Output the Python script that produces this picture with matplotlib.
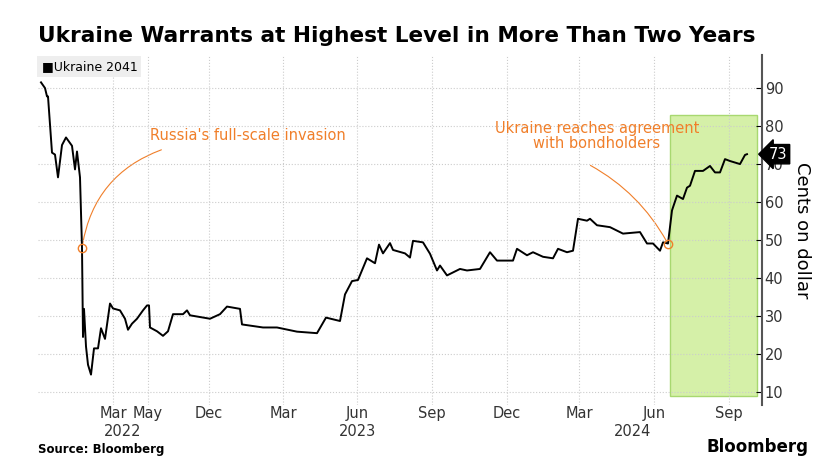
import matplotlib.pyplot as plt
import matplotlib.transforms as mtransforms
from matplotlib.patches import FancyArrowPatch

plt.rcParams['font.family'] = ['DejaVu Sans']

# position along the (non-calendar) Bloomberg time axis, and price in cents
pos = [41, 45, 47, 48, 52, 55, 58, 62, 66, 72, 75, 77, 80, 82, 83, 84, 86, 88, 91, 94, 98,
       101, 105, 110, 113, 120, 125, 128, 132, 137, 143, 147, 149, 150, 157, 163, 168, 173,
       183, 187, 190, 210, 220, 227, 240, 242, 263, 277, 297, 317, 326, 340, 345, 352, 358,
       367, 375, 379, 383, 390, 393, 405, 410, 413, 423, 430, 437, 440, 447, 460, 467, 480,
       490, 497, 513, 517, 527, 533, 543, 553, 558, 567, 573, 578, 587, 590, 597, 610, 623,
       640, 647, 653, 660, 663, 668, 672, 673, 677, 683, 687, 690, 695, 703, 710, 715, 720,
       725, 730, 740, 745, 747]
price = [91.5, 90, 87.8, 87.8, 73, 72.5, 66.5, 75, 77, 74.8, 68.6, 73.3, 66.5, 48, 24.5, 31.9,
         22, 17.2, 14.6, 21.5, 21.5, 26.8, 24, 33.3, 32, 31.5, 29.3, 26.4, 28, 29.3, 31.5, 32.8,
         32.8, 27, 26, 24.8, 26, 30.5, 30.5, 31.5, 30.2, 29.3, 30.5, 32.5, 31.9, 27.8, 27, 27,
         25.9, 25.5, 29.6, 28.7, 35.7, 39.2, 39.5, 45.2, 43.9, 48.8, 46.5, 49.2, 47.4, 46.5,
         45.4, 49.8, 49.4, 46.4, 42, 43.3, 40.7, 42.4, 42, 42.4, 46.8, 44.6, 44.6, 47.7, 46,
         46.8, 45.6, 45.2, 47.7, 46.8, 47.2, 55.6, 55.1, 55.6, 53.9, 53.4, 51.7, 52.1, 49.1,
         49.1, 47.2, 49.4, 49.1, 57.8, 58.6, 61.7, 60.8, 63.8, 64.3, 68.2, 68.2, 69.5, 67.8,
         67.8, 71.3, 70.8, 70, 72.4, 72.6]

tick_pos = [113, 148, 209, 283, 357, 432, 507, 579, 654, 729]
tick_lbl = ['Mar', 'May', 'Dec', 'Mar', 'Jun', 'Sep', 'Dec', 'Mar', 'Jun', 'Sep']
year_pos = [123, 357, 633]
year_lbl = ['2022', '2023', '2024']

fig = plt.figure(figsize=(8.39, 4.68), dpi=100)
ax = fig.add_axes([38 / 839, 1 - 405 / 468, (762 - 38) / 839, 350 / 468])

ax.axvspan(670, 757, ymin=(9 - 6.6) / 92.1, ymax=(83 - 6.6) / 92.1,
           facecolor='#d5f0a8', edgecolor='#a8d870', lw=1)
ax.plot(pos, price, color='black', lw=1.4, zorder=3)

ax.set_xlim(38, 762)
ax.set_ylim(6.6, 98.7)
ax.yaxis.tick_right()
ax.set_yticks(range(10, 100, 10))
ax.set_xticks(tick_pos)
ax.set_xticklabels(tick_lbl)
ax.tick_params(axis='y', labelsize=10.5, length=4, direction='in', pad=2, labelcolor='#333333')
ax.tick_params(axis='x', labelsize=10.5, length=0, pad=1, labelcolor='#333333')
ax.grid(True, color='#cccccc', ls=':', lw=0.8)
for s in ['top', 'left', 'bottom']:
    ax.spines[s].set_visible(False)
ax.spines['right'].set_color('#555555')
ax.spines['right'].set_linewidth(1.5)

tr = mtransforms.blended_transform_factory(ax.transData, ax.transAxes)
for p, l in zip(year_pos, year_lbl):
    ax.text(p, -0.055, l, transform=tr, ha='center', va='top', fontsize=10.5, color='#333333')

ax.set_ylabel('Cents on dollar', rotation=-90, fontsize=13, labelpad=20)
ax.yaxis.set_label_position('right')

orange = '#f07f2a'
ax.plot([82], [48], 'o', mfc='none', mec=orange, ms=6, zorder=4)
ax.plot([668], [49], 'o', mfc='none', mec=orange, ms=6, zorder=4)
ax.text(248, 77.5, "Russia's full-scale invasion", color=orange, fontsize=10.5, ha='center', va='center')
ax.text(597, 77.5, 'Ukraine reaches agreement\nwith bondholders', color=orange, fontsize=10.5,
        ha='center', va='center', linespacing=1.0)
ax.add_patch(FancyArrowPatch((164, 74), (82, 48), connectionstyle='arc3,rad=0.3',
                             arrowstyle='-', color=orange, lw=0.8))
ax.add_patch(FancyArrowPatch((588, 70), (668, 49), connectionstyle='arc3,rad=-0.15',
                             arrowstyle='-', color=orange, lw=0.8))

ax.annotate('73', xy=(762, 72.6), xycoords='data', xytext=(769, 72.6), textcoords='data',
            color='white', fontsize=10.5, ha='left', va='center', annotation_clip=False,
            bbox=dict(boxstyle='larrow,pad=0.15', fc='black', ec='black'))

ax.text(0.005, 0.985, '■Ukraine 2041', transform=ax.transAxes, fontsize=9, va='top',
        bbox=dict(fc='#eeeeee', ec='none', pad=3))

fig.text(38 / 839, 1 - 36 / 468, 'Ukraine Warrants at Highest Level in More Than Two Years',
         fontsize=15.6, fontweight='bold', va='center')
fig.text(38 / 839, 1 - 449 / 468, 'Source: Bloomberg', fontsize=8.5, fontweight='bold', va='center')
fig.text(808 / 839, 1 - 447 / 468, 'Bloomberg', fontsize=12, fontweight='bold', va='center', ha='right')

fig.savefig('out.png', dpi=100)
